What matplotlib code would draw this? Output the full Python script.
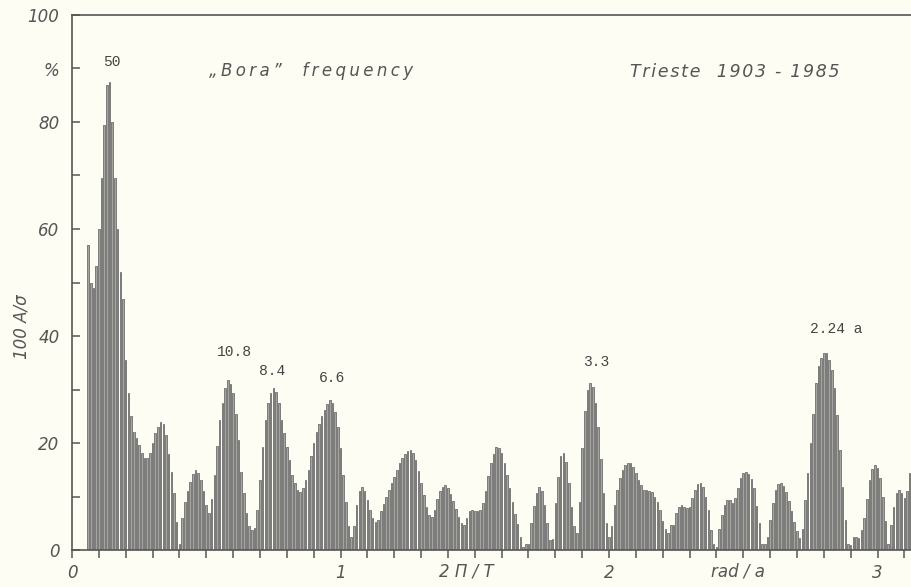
import numpy as np
import matplotlib
matplotlib.use("Agg")
import matplotlib.pyplot as plt

# Spectrum of "Bora" frequency, Trieste 1903-1985
# bars every 0.01 rad/a starting at 0.06
freq_first = 0.06
freq_step = 0.01

amp_low = [  # 0.06 - 0.55
    57, 50, 49, 53, 60, 69.5, 79.4, 87, 87.5, 80,
    69.5, 60, 52, 47, 35.5, 29.3, 25, 22, 21, 19.6,
    18.1, 17.2, 17.2, 18.1, 20, 21.8, 23, 24, 23.5, 21.5,
    18, 14.6, 10.6, 5.3, 1.2, 6, 9, 11, 12.8, 14.2,
    15, 14.4, 13, 11, 8.4, 7, 9.5, 14, 19.5, 24.3,
]
amp_mid1 = [  # 0.56 - 1.35
    27.5, 30.2, 31.8, 31, 29.3, 25.5, 20.5, 14.5, 10.6, 6.9,
    4.4, 3.7, 4.2, 7.5, 13, 19.3, 24.3, 27.4, 29.3, 30.3,
    29.5, 27.4, 24.3, 21.8, 19.3, 16.8, 14, 12.5, 11.2, 10.9,
    11.5, 13, 15, 17.5, 20, 22, 23.6, 25, 26.2, 27.2,
    28, 27.4, 25.8, 23, 19, 14, 9, 4.5, 2.5, 4.5,
    8.5, 11, 11.8, 11, 9.3, 7.5, 6, 5.3, 5.6, 7.2,
    8.6, 10, 11.2, 12.5, 13.7, 15, 16.2, 17.2, 18, 18.5,
    18.6, 18.1, 16.8, 14.8, 12.5, 10.2, 8, 6.5, 6.2, 7.5,
]
amp_mid2 = [  # 1.36 - 2.25
    9.5, 11, 11.8, 12.1, 11.6, 10.5, 9.2, 7.6, 6.2, 5,
    4.7, 5.9, 7.2, 7.5, 7.2, 7.3, 7.5, 8.8, 11, 13.8,
    16.3, 18, 19.3, 19, 18.2, 16.3, 14, 11.5, 9, 6.8,
    4.8, 2.5, 0.6, 1.2, 1.2, 5, 8.2, 10.6, 11.8, 11,
    8.5, 5, 1.9, 2, 8.7, 13.7, 17.5, 18.1, 16.5, 12.5,
    8, 4.5, 3.1, 9, 19, 26, 30, 31.2, 30.5, 27.5,
    23, 17, 10.6, 5, 2.5, 4.4, 8.4, 11.2, 13.4, 15,
    15.8, 16.2, 16.2, 15.6, 14.3, 13.1, 12.1, 11.3, 11.2, 11.1,
    10.8, 10, 9, 7.5, 5.5, 3.9, 3.1, 4.7, 4.7, 6.9,
]
amp_high = [  # 2.26 - 3.12
    8.1, 8.4, 8.1, 7.8, 8.1, 9.7, 11.2, 12.3, 12.5, 11.8,
    10, 7.5, 3.7, 1.2, 0.6, 4, 6.5, 8.4, 9.3, 9.3,
    8.8, 9.7, 11.5, 13.4, 14.3, 14.6, 14.2, 13.2, 11.5, 8.2,
    5, 1.2, 1.2, 2.5, 5.6, 8.7, 11.2, 12.4, 12.6, 12,
    10.8, 9.2, 7.2, 5.3, 3.5, 2.2, 4, 9.3, 14.3, 20,
    25.5, 31.2, 34.3, 35.8, 36.9, 36.9, 35.5, 33.6, 30.2, 25.2,
    18.7, 11.8, 5.6, 1.2, 0.9, 2.5, 2.5, 2.2, 3.7, 6,
    9.5, 13, 15.2, 15.9, 15.3, 13.5, 10, 5.5, 1.2, 4.7,
    8.1, 10.6, 11.2, 10.6, 9.7, 11, 14.3,
]

peak_labels = ["50", "10.8", "8.4", "6.6", "3.3", "2.24 a"]
ytick_values = [0, 10, 20, 30, 40, 50, 60, 70, 80, 90, 100]
ytick_labels = ["0", "", "20", "", "40", "", "60", "", "80", "%", "100"]
xtick_labels = {0: "0", 10: "1", 20: "2", 30: "3"}

amps = np.array(amp_low + amp_mid1 + amp_mid2 + amp_high)
freqs = freq_first + freq_step * np.arange(len(amps))

PAPER = "#fdfdf3"
INK = "#555555"


def spaced(s, sep):
    # letter-spaced typewriter lettering
    return sep.join(s)


fig = plt.figure(figsize=(9.11, 5.87), dpi=100, facecolor=PAPER)
ax = fig.add_axes([72 / 911, 37 / 587, 839 / 911, 535 / 587])
ax.set_facecolor(PAPER)

ax.bar(freqs, amps, width=0.0058, color="#a4a4a0", edgecolor="#5a5a5a",
       linewidth=0.5, align="center")

ax.set_xlim(0, 839 / 268.5)
ax.set_ylim(0, 100)

for s in ["left", "top", "bottom"]:
    ax.spines[s].set_color(INK)
    ax.spines[s].set_linewidth(1.2)
ax.spines["right"].set_visible(False)

# ticks
xt = np.arange(0, 32) / 10
ax.set_xticks(xt)
ax.set_xticklabels([xtick_labels.get(i, "") for i in range(len(xt))])
ax.set_yticks(ytick_values)
ax.set_yticklabels(ytick_labels)
ax.tick_params(axis="x", direction="out", length=6, width=1.1, color=INK,
               labelsize=12, labelcolor=INK, pad=4)
ax.tick_params(axis="y", direction="in", length=6, width=1.1, color=INK,
               labelsize=12, labelcolor=INK, pad=9)
for lab in ax.get_xticklabels() + ax.get_yticklabels():
    lab.set_fontstyle("italic")

# axis captions
ax.text(1.47, -4.1, "2 Π / T", fontsize=12, style="italic", color=INK,
        ha="center", va="center")
ax.text(2.48, -4.1, "rad / a", fontsize=12, style="italic", color=INK,
        ha="center", va="center")
fig.text(22 / 911, 1 - 327 / 587, "100 A/σ", rotation=90, fontsize=12,
         style="italic", color=INK, ha="center", va="center")

# headings
ax.text(0.51, 89.5, spaced("„Bora”  frequency", "\u2009"), fontsize=12,
        style="italic", color=INK, ha="left", va="center")
ax.text(2.08, 89.3, spaced("Trieste  1903 - 1985", "\u200a"), fontsize=12.5,
        style="italic", color=INK, ha="left", va="center")

# period labels above the peaks
label_pos = [(0.15, 91.2), (0.604, 37), (0.746, 33.5), (0.967, 32.1),
             (1.952, 35.1), (2.846, 41.3)]
for txt, (x, y) in zip(peak_labels, label_pos):
    ax.text(x, y, txt, fontsize=10.5, family="Liberation Mono", color="#444444",
            ha="center", va="center")

fig.savefig("out.png", dpi=100, facecolor=PAPER)
